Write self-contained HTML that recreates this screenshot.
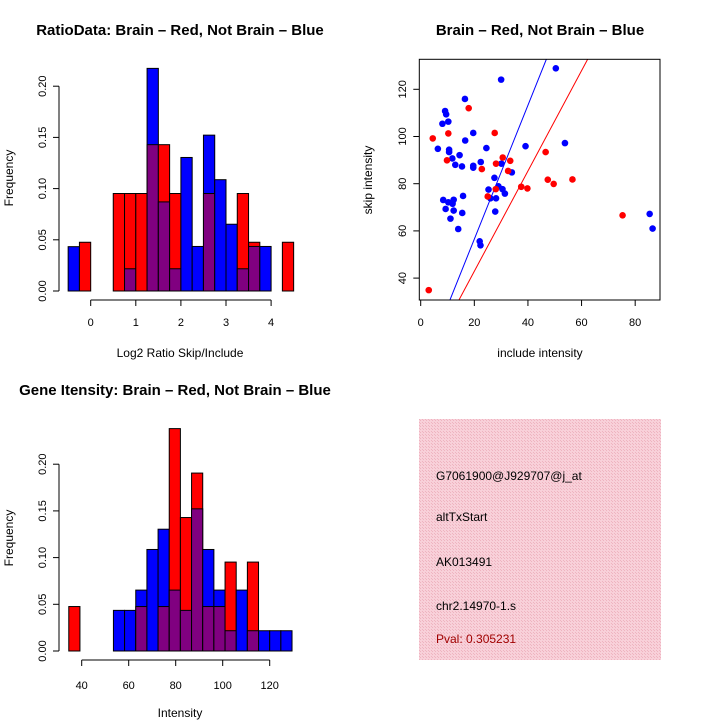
<!DOCTYPE html>
<html><head><meta charset="utf-8"><style>
body{margin:0;background:#fff}
svg{display:block;font-family:"Liberation Sans",sans-serif}
</style></head><body>
<svg id="s" width="720" height="720" viewBox="0 0 720 720">
<text x="180" y="35" text-anchor="middle" font-size="15" font-weight="bold">RatioData: Brain – Red, Not Brain – Blue</text>
<text x="180" y="357" text-anchor="middle" font-size="12">Log2 Ratio Skip/Include</text>
<text transform="translate(13,178) rotate(-90)" text-anchor="middle" font-size="12">Frequency</text>
<text x="540" y="35" text-anchor="middle" font-size="15" font-weight="bold">Brain – Red, Not Brain – Blue</text>
<text x="540" y="357" text-anchor="middle" font-size="12">include intensity</text>
<text transform="translate(372,180) rotate(-90)" text-anchor="middle" font-size="12">skip intensity</text>
<text x="175" y="395" text-anchor="middle" font-size="15" font-weight="bold">Gene Itensity: Brain – Red, Not Brain – Blue</text>
<text x="180" y="717" text-anchor="middle" font-size="12">Intensity</text>
<text transform="translate(13,538) rotate(-90)" text-anchor="middle" font-size="12">Frequency</text>
<defs><pattern id="hatch" width="3" height="3" patternUnits="userSpaceOnUse"><rect width="3" height="3" fill="#f8d0d9"/><rect width="1" height="1" fill="#eeb4c0"/><rect x="2" y="2" width="1" height="1" fill="#eeb4c0"/></pattern></defs>
<rect x="419" y="419" width="242" height="241" fill="url(#hatch)"/>
<g font-size="12">
<text x="436" y="480">G7061900@J929707@j_at</text>
<text x="436" y="521">altTxStart</text>
<text x="436" y="566">AK013491</text>
<text x="436" y="610">chr2.14970-1.s</text>
<text x="436" y="643" fill="#a00000">Pval: 0.305231</text>
</g>
</svg>
<script>
// Ratio histogram data
const ratioBreakStart = -0.5, ratioBinWidth = 0.25;
const ratioBlue = [0.0433,0,0,0,0,0.0217,0,0.2174,0.0870,0.0217,0.1304,0.0435,0.1522,0.1087,0.0652,0.0217,0.0435,0.0435,0,0];
const ratioRed  = [0,0.0476,0,0,0.0952,0.0952,0.0952,0.1429,0.1429,0.0952,0,0,0.0952,0,0,0.0952,0.0476,0,0,0.0476];
const ratioXTicks = [0,1,2,3,4];
const ratioYTicks = ["0.00","0.05","0.10","0.15","0.20"];
// Intensity histogram data
const intBreakStart = 34.5, intBinWidth = 4.75;
const intBlue = [0,0,0,0,0.0435,0.0435,0.0652,0.1087,0.1304,0.0652,0.0435,0.1522,0.1087,0.0652,0.0217,0.0652,0.0217,0.0217,0.0217,0.0217];
const intRed  = [0.0476,0,0,0,0,0,0.0476,0,0.0476,0.2381,0.1429,0.1905,0.0476,0.0476,0.0952,0,0.0952,0,0,0];
const intXTicks = [40,60,80,100,120];
const intYTicks = ["0.00","0.05","0.10","0.15","0.20"];
// Scatter data
const blueX = [50.4,30,16.5,9.1,9.5,10.3,8.1,19.6,16.6,6.4,10.6,10.6,24.5,39.1,53.8,14.5,11.8,22.4,12.9,15.4,19.6,19.6,30.1,34,27.5,25.3,29,30.5,31.4,26,28.1,15.8,8.4,10.3,12.3,11.9,9.3,12.3,15.5,27.8,11.1,14,22,22.3,85.4,86.5];
const blueY = [128.9,124.1,115.9,110.8,109.4,106.3,105.4,101.5,98.3,94.8,94.4,93.4,95.1,95.9,97.2,92.1,90.7,89.2,88,87.3,87.6,86.8,88.5,84.8,82.5,77.5,78.9,77.7,75.8,73.8,73.8,74.8,73.1,72.1,73.2,71.5,69.3,68.6,67.6,68.2,65.2,60.8,55.6,53.9,67.2,61];
const redX = [17.9,4.5,10.3,27.6,9.8,30.6,33.4,28.1,22.8,32.6,46.6,47.4,49.6,56.6,37.5,39.8,28,25,75.3,3];
const redY = [112,99.2,101.3,101.5,89.9,91.1,89.7,88.5,86.2,85.4,93.4,81.7,79.9,81.8,78.7,78,77.7,74.6,66.6,34.9];
const blueLine = [-0.2, 2.836]; // intercept, slope
const redLine = [0.4, 2.125];
const scXTicks = [0,20,40,60,80];
const scYTicks = [40,60,80,100,120];

const svg = document.getElementById('s');
const NS = 'http://www.w3.org/2000/svg';
function mk(tag, attrs, parent){const e=document.createElementNS(NS,tag);for(const k in attrs)e.setAttribute(k,attrs[k]);(parent||svg).appendChild(e);return e;}

function hist(name, blue, red, start, bw, xs, ys, xTicks, yTicks, axisY, xTickLabY){
  const g = mk('g',{});
  
  
  for(let i=0;i<blue.length;i++){
    const x0=xs(start+i*bw), x1=xs(start+(i+1)*bw);
    const b=blue[i], r=red[i], lo=Math.min(b,r), hi=Math.max(b,r);
    if(hi>0){
      const top = mk('rect',{x:x0,y:ys(hi),width:x1-x0,height:ys(0)-ys(hi),fill:b>=r?'#0000ff':'#ff0000',stroke:'#000','stroke-width':1},g);
      
      
    }
    if(lo>0){
      const p = mk('rect',{x:x0,y:ys(lo),width:x1-x0,height:ys(0)-ys(lo),fill:'#800080',stroke:'#000','stroke-width':1},g);
      
      
    }
  }
  const yv = yTicks.map(Number);
  mk('line',{x1:59,x2:59,y1:ys(yv[0]),y2:ys(yv[yv.length-1]),stroke:'#000'},g);
  yTicks.forEach(t=>{const y=ys(+t);mk('line',{x1:53,x2:59,y1:y,y2:y,stroke:'#000'},g);
    const tx=mk('text',{transform:`translate(46,${y}) rotate(-90)`,'text-anchor':'middle','font-size':11},g);tx.textContent=t;});
  mk('line',{x1:xs(xTicks[0]),x2:xs(xTicks[xTicks.length-1]),y1:axisY,y2:axisY,stroke:'#000'},g);
  xTicks.forEach(t=>{const x=xs(t);mk('line',{x1:x,x2:x,y1:axisY,y2:axisY+6,stroke:'#000'},g);
    const tx=mk('text',{x:x,y:xTickLabY,'text-anchor':'middle','font-size':11},g);tx.textContent=t;});
}
hist('ratio-histogram', ratioBlue, ratioRed, ratioBreakStart, ratioBinWidth,
  v=>90.7+v*45.1, v=>291-v*1024, ratioXTicks, ratioYTicks, 300, 326);
hist('intensity-histogram', intBlue, intRed, intBreakStart, intBinWidth,
  v=>81.7+(v-40)*2.35, v=>651-v*934, intXTicks, intYTicks, 660, 689);

const sx = v=>420.7+v*2.681, sy = v=>89.3-(v-120)*2.36;
const L=419.3,R=660,T=59.3,B=300;
const sg = mk('g',{});


mk('defs',{}).innerHTML='<clipPath id="cp"><rect x="'+L+'" y="'+T+'" width="'+(R-L)+'" height="'+(B-T)+'"/></clipPath>';
function fitLine(p,col,name){
  const xa=-10,xb=100;
  const l=mk('line',{x1:sx(xa),y1:sy(p[0]+p[1]*xa),x2:sx(xb),y2:sy(p[0]+p[1]*xb),stroke:col,'stroke-width':1,'clip-path':'url(#cp)'},sg);
  
  
}
fitLine(blueLine,'#0000ff','blue-fit-line');
fitLine(redLine,'#ff0000','red-fit-line');
blueX.forEach((x,i)=>{const c=mk('circle',{cx:sx(x),cy:sy(blueY[i]),r:3.3,fill:'#0000ff'},sg);
  
  });
redX.forEach((x,i)=>{const c=mk('circle',{cx:sx(x),cy:sy(redY[i]),r:3.3,fill:'#ff0000'},sg);
  
  });
mk('rect',{x:L,y:T,width:R-L,height:B-T,fill:'none',stroke:'#000'},sg);
scXTicks.forEach(t=>{const x=sx(t);mk('line',{x1:x,x2:x,y1:B,y2:B+6,stroke:'#000'},sg);
  const tx=mk('text',{x:x,y:326,'text-anchor':'middle','font-size':11},sg);tx.textContent=t;});
mk('line',{x1:sx(0),x2:sx(80),y1:B,y2:B,stroke:'#000'},sg);
scYTicks.forEach(t=>{const y=sy(t);mk('line',{x1:L-6,x2:L,y1:y,y2:y,stroke:'#000'},sg);
  const tx=mk('text',{transform:`translate(406,${y}) rotate(-90)`,'text-anchor':'middle','font-size':11},sg);tx.textContent=t;});
</script>
</body></html>
